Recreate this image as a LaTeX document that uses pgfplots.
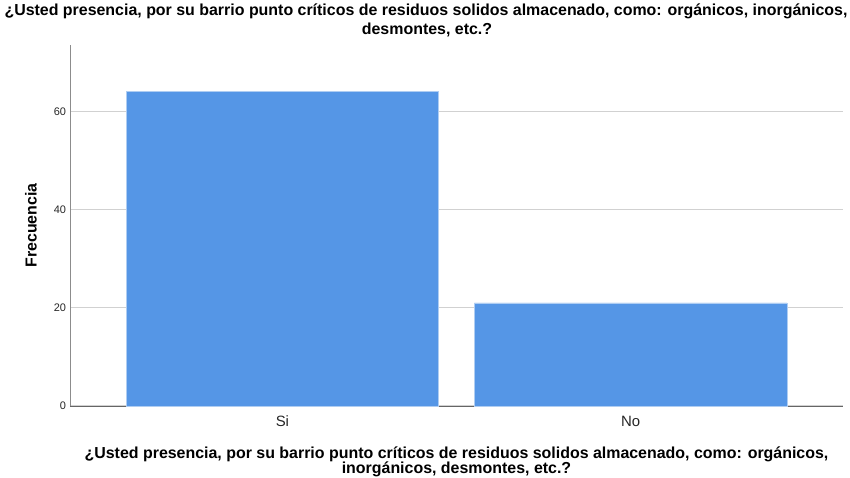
\documentclass[border=0pt]{standalone}
\usepackage{pgfplots}
\pgfplotsset{compat=1.18}
\usepackage{fontspec}
\setmainfont{Liberation Sans}
\definecolor{barblue}{RGB}{85,150,230}
\definecolor{baredge}{RGB}{175,205,242}
\begin{document}
\begin{tikzpicture}
\begin{axis}[name=ax, scale only axis, width=773bp, height=361bp,
  xmin=-0.61, xmax=1.61, ymin=0, ymax=73.5,
  xtick={0,1}, xticklabels={Si,No}, ytick={0,20,40,60},
  axis lines*=left,
  x axis line style={-, draw=black!60, line width=1bp},
  y axis line style={-, draw=black!45, line width=1bp},
  major tick length=0pt,
  ymajorgrids, grid style={draw=black!18, line width=1.2bp},
  /pgf/number format/assume math mode=true,
  yticklabel style={font=\fontsize{11}{13}\selectfont, text=black!85, xshift=-0.5bp},
  xticklabel style={font=\fontsize{15}{17}\selectfont, text=black!85, anchor=base, yshift=-20.5bp},
  clip=false,
]
\addplot[ybar, bar width=0.898, fill=barblue, draw=baredge, line width=0.7bp] coordinates {(0,64) (1,21)};
\end{axis}
\path[use as bounding box] ([xshift=-70bp,yshift=-72bp]ax.south west) rectangle ([xshift=7bp,yshift=45bp]ax.north east);
\node[anchor=base, font=\bfseries\fontsize{16}{19}\selectfont, inner sep=0pt] at ([xshift=356bp,yshift=29bp]ax.north west)
  {¿Usted presencia, por su barrio punto críticos de residuos solidos almacenado, como: orgánicos, inorgánicos,};
\node[anchor=base, font=\bfseries\fontsize{16}{19}\selectfont, inner sep=0pt] at ([xshift=357bp,yshift=10bp]ax.north west)
  {desmontes, etc.?};
\node[anchor=base, font=\bfseries\fontsize{16}{19}\selectfont, inner sep=0pt] at ([yshift=-52bp]ax.south)
  {¿Usted presencia, por su barrio punto críticos de residuos solidos almacenado, como: orgánicos,};
\node[anchor=base, font=\bfseries\fontsize{16}{19}\selectfont, inner sep=0pt] at ([yshift=-67bp]ax.south)
  {inorgánicos, desmontes, etc.?};
\node[rotate=90, font=\bfseries\fontsize{16}{19}\selectfont, inner sep=0pt] at ([xshift=-39bp]ax.west) {Frecuencia};
\end{tikzpicture}
\end{document}
